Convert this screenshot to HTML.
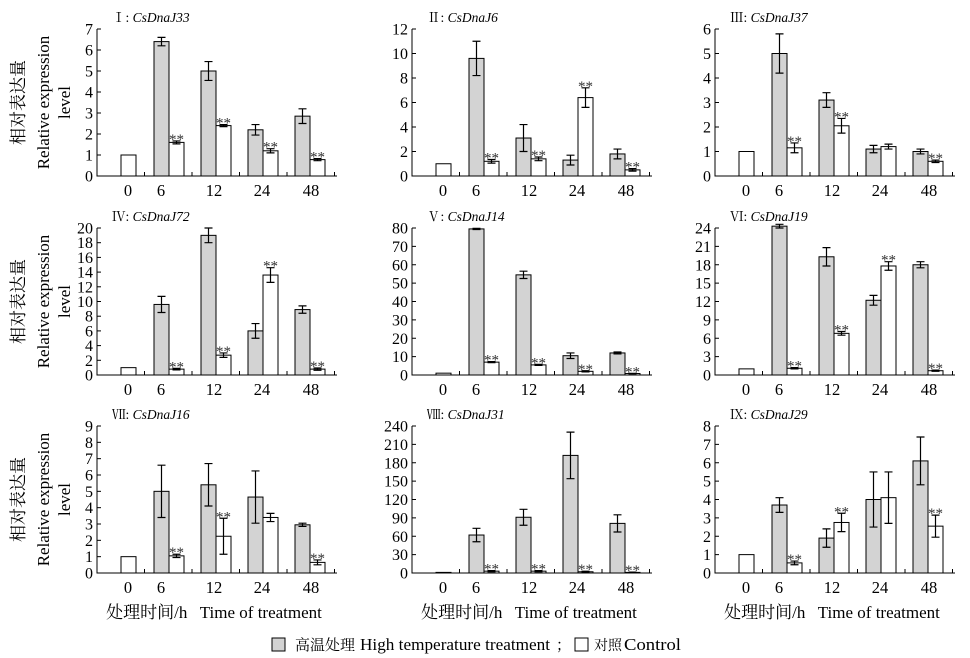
<!DOCTYPE html>
<html><head><meta charset="utf-8">
<style>
body{margin:0;background:#fff;}
svg{display:block;font-family:"Liberation Serif","Noto Serif CJK SC",serif;}
</style></head>
<body>
<svg id="c" width="970" height="658" viewBox="0 0 970 658"></svg>
<script>
const categories = ["0","6","12","24","48"];
const panelTitles = ["Ⅰ","Ⅱ","Ⅲ","Ⅳ","Ⅴ","Ⅵ","Ⅶ","Ⅷ","Ⅸ"];
const geneNames = ["CsDnaJ33","CsDnaJ6","CsDnaJ37","CsDnaJ72","CsDnaJ14","CsDnaJ19","CsDnaJ16","CsDnaJ31","CsDnaJ29"];
const yMax = [7,12,6,20,80,24,9,240,8];
const yStep = [1,2,1,2,10,3,1,30,1];
const controlZero = [1,1,1,1,1,1,1,1,1];
const heatValues = [
 [6.4,5.0,2.2,2.85],[9.6,3.1,1.3,1.8],[5.0,3.1,1.1,1.0],
 [9.6,19.0,6.0,8.9],[79.5,54.5,10.5,12],[24.3,19.3,12.2,18.0],
 [5.0,5.4,4.65,2.95],[62,91,192,81],[3.7,1.9,4.0,6.1]];
const heatErr = [
 [0.2,0.45,0.25,0.35],[1.4,1.1,0.4,0.4],[0.8,0.3,0.15,0.1],
 [1.1,1.0,1.0,0.5],[0.3,2,1.5,0.5],[0.3,1.5,0.8,0.5],
 [1.6,1.3,1.6,0.1],[11,13,38,14],[0.4,0.5,1.5,1.3]];
const ctrlValues = [
 [1.6,2.4,1.2,0.78],[1.2,1.4,6.4,0.5],[1.15,2.05,1.2,0.6],
 [0.8,2.7,13.6,0.8],[7,5.5,2,0.8],[1.1,6.8,17.8,0.7],
 [1.05,2.25,3.4,0.65],[3,3,2,1],[0.55,2.75,4.1,2.55]];
const ctrlErr = [
 [0.07,0.05,0.1,0.05],[0.15,0.15,0.8,0.1],[0.2,0.3,0.1,0.05],
 [0.1,0.3,1.0,0.15],[0.3,0.3,0.3,0.1],[0.1,0.3,0.7,0.1],
 [0.1,1.1,0.25,0.15],[1,1,1,0.5],[0.1,0.5,1.4,0.6]];
const stars = [
 [1,1,1,1],[1,1,1,1],[1,1,0,1],[1,1,1,1],[1,1,1,1],[1,1,1,1],[1,1,0,1],[1,1,1,1],[1,1,0,1]];

const NS="http://www.w3.org/2000/svg";
const svg=document.getElementById('c');
function el(tag,attrs,parent,text){const e=document.createElementNS(NS,tag);for(const k in attrs)e.setAttribute(k,attrs[k]);if(text!==undefined)e.textContent=text;(parent||svg).appendChild(e);return e;}
const colX=[97,412,715], rowZero=[176,375,573], plotH=147, axisLen=240, bw=15;

for(let p=0;p<9;p++){
  const col=p%3,row=Math.floor(p/3);
  const x0=colX[col], y0=rowZero[row];
  const g=el('g',{},svg);
  
  
  const ys=v=>y0-v/yMax[p]*plotH;
  const t=el('text',{x:x0+15,y:y0-plotH-7,'font-size':13.5},g);
  
  
  el('tspan',{},t,panelTitles[p]+": ");
  el('tspan',{'font-style':'italic'},t,geneNames[p]);
  const ax=el('path',{d:`M${x0},${y0-plotH}V${y0}H${x0+axisLen}`,stroke:'#000','stroke-width':1,fill:'none'},g);
  
  
  for(let v=0;v<=yMax[p]+1e-9;v+=yStep[p]){
    el('line',{x1:x0,x2:x0+4,y1:ys(v),y2:ys(v),stroke:'#000'},g);
    const tl=el('text',{x:x0-4,y:ys(v)+5.5,'font-size':16,'text-anchor':'end'},g,String(v));
    
    
  }
  for(let i=1;i<=5;i++){
    const tx=x0+i*47.5;
    el('line',{x1:tx,x2:tx,y1:y0,y2:y0-4,stroke:'#000'},g);
  }
  const labX=[31,64,117,165,214];
  categories.forEach((c,i)=>{
    const tl=el('text',{x:x0+labX[i],y:y0+20,'font-size':16.5,'text-anchor':'middle'},g,c);
    
    
  });
  const cb=el('rect',{x:x0+24,y:ys(controlZero[p]),width:bw,height:y0-ys(controlZero[p]),fill:'#fff',stroke:'#000'},g);
  
  
  function errBar(cx,v,e){
    el('path',{d:`M${cx},${ys(v+e)}V${ys(Math.max(0,v-e))}M${cx-4},${ys(v+e)}H${cx+4}M${cx-4},${ys(Math.max(0,v-e))}H${cx+4}`,stroke:'#000','stroke-width':1.2,fill:'none'},g);
  }
  for(let i=0;i<4;i++){
    const gx=x0+57+i*47;
    const hv=heatValues[p][i], cv=ctrlValues[p][i];
    const hb=el('rect',{x:gx,y:ys(hv),width:bw,height:y0-ys(hv),fill:'#d3d3d3',stroke:'#000'},g);
    
    
    errBar(gx+bw/2,hv,heatErr[p][i]);
    const wb=el('rect',{x:gx+bw,y:ys(cv),width:bw,height:y0-ys(cv),fill:'#fff',stroke:'#000'},g);
    
    
    errBar(gx+bw*1.5,cv,ctrlErr[p][i]);
    if(stars[p][i]){
      const st=el('text',{x:gx+bw*1.5,y:ys(cv+ctrlErr[p][i])+3,'font-size':15,'text-anchor':'middle',fill:'#333'},g,'**');
      
      
    }
  }
  if(col===0){
    const cy=y0-plotH/2;
    [["相对表达量",20],["Relative expression",45],["level",66]].forEach(([s,xx])=>{
      const yl=el('text',{x:xx,y:cy,'font-size':17,'text-anchor':'middle',transform:`rotate(-90 ${xx} ${cy})`,'dominant-baseline':'middle'},g,s);
      
      
    });
  }
  if(row===2){
    const xt=el('text',{x:x0+117,y:618,'font-size':17,'text-anchor':'middle'},g,"处理时间/h   Time of treatment");
    
    
    xt.style.whiteSpace='pre';
  }
}
const lg=el('g',{},svg);


el('rect',{x:272,y:638,width:13,height:13,fill:'#d3d3d3',stroke:'#000'},lg);
const l1=el('text',{y:650,'font-size':17},lg);


el('tspan',{x:295,'font-size':15},l1,"高温处理");
el('tspan',{x:360,textLength:190,lengthAdjust:'spacingAndGlyphs'},l1,"High temperature treatment");
el('tspan',{x:556,'font-size':15},l1,"；");
el('rect',{x:575,y:638,width:13,height:13,fill:'#fff',stroke:'#000'},lg);
const l2=el('text',{y:650,'font-size':17},lg);


el('tspan',{x:594,'font-size':14},l2,"对照");
el('tspan',{x:624,textLength:57,lengthAdjust:'spacingAndGlyphs'},l2,"Control");
</script>
</body></html>
